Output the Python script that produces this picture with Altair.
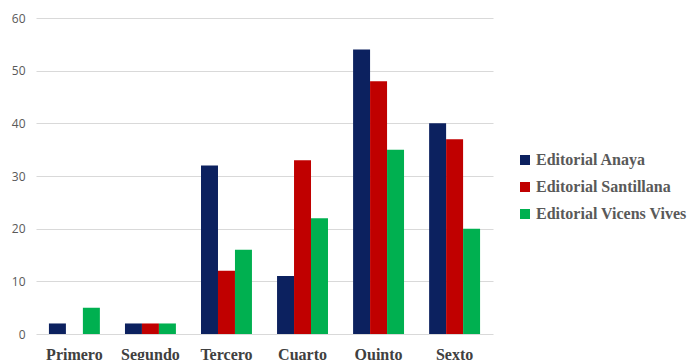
import altair as alt
import pandas as pd

cursos = ["Primero", "Segundo", "Tercero", "Cuarto", "Quinto", "Sexto"]
series = ["Editorial Anaya", "Editorial Santillana", "Editorial Vicens Vives"]
anaya = [2, 2, 32, 11, 54, 40]
santillana = [0, 2, 12, 33, 48, 37]
vicens = [5, 2, 16, 22, 35, 20]
colores = ["#0c215f", "#c00000", "#00b050"]

rows = []
for s, vals in zip(series, [anaya, santillana, vicens]):
    for c, v in zip(cursos, vals):
        rows.append({"Curso": c, "Editorial": s, "Valor": v})
df = pd.DataFrame(rows)

chart = alt.Chart(df).mark_bar().encode(
    x=alt.X("Curso:N", sort=cursos, title=None,
            scale=alt.Scale(paddingInner=0.33, paddingOuter=0.17),
            axis=alt.Axis(labelAngle=0, labelFont="Liberation Serif", labelFontWeight="bold",
                          labelFontSize=16, labelColor="#404040", labelPadding=12,
                          ticks=False, domain=False, grid=False)),
    xOffset=alt.XOffset("Editorial:N", sort=series, scale=alt.Scale(paddingInner=0.0)),
    y=alt.Y("Valor:Q", title=None, scale=alt.Scale(domain=[0, 60]),
            axis=alt.Axis(values=[0, 10, 20, 30, 40, 50, 60], labelFont="Open Sans",
                          labelFontSize=12, labelColor="#595959", labelPadding=11,
                          ticks=False, domain=False, gridColor="#d9d9d9", gridWidth=1)),
    color=alt.Color("Editorial:N", sort=series,
                    scale=alt.Scale(domain=series, range=colores),
                    legend=alt.Legend(title=None, orient="none", legendX=481, legendY=134,
                                      symbolType="square", symbolSize=100, symbolStrokeWidth=0,
                                      labelFont="Liberation Serif", labelFontWeight="bold",
                                      labelFontSize=16, labelColor="#595959",
                                      rowPadding=11, labelOffset=3)),
).properties(
    width=457, height=316,
    autosize=alt.AutoSizeParams(type="none"),
    padding={"left": 36, "top": 18, "right": 204, "bottom": 26},
).configure(background="white").configure_view(stroke=None)

chart.save("out.html", embed_options={"renderer": "svg", "actions": False})
